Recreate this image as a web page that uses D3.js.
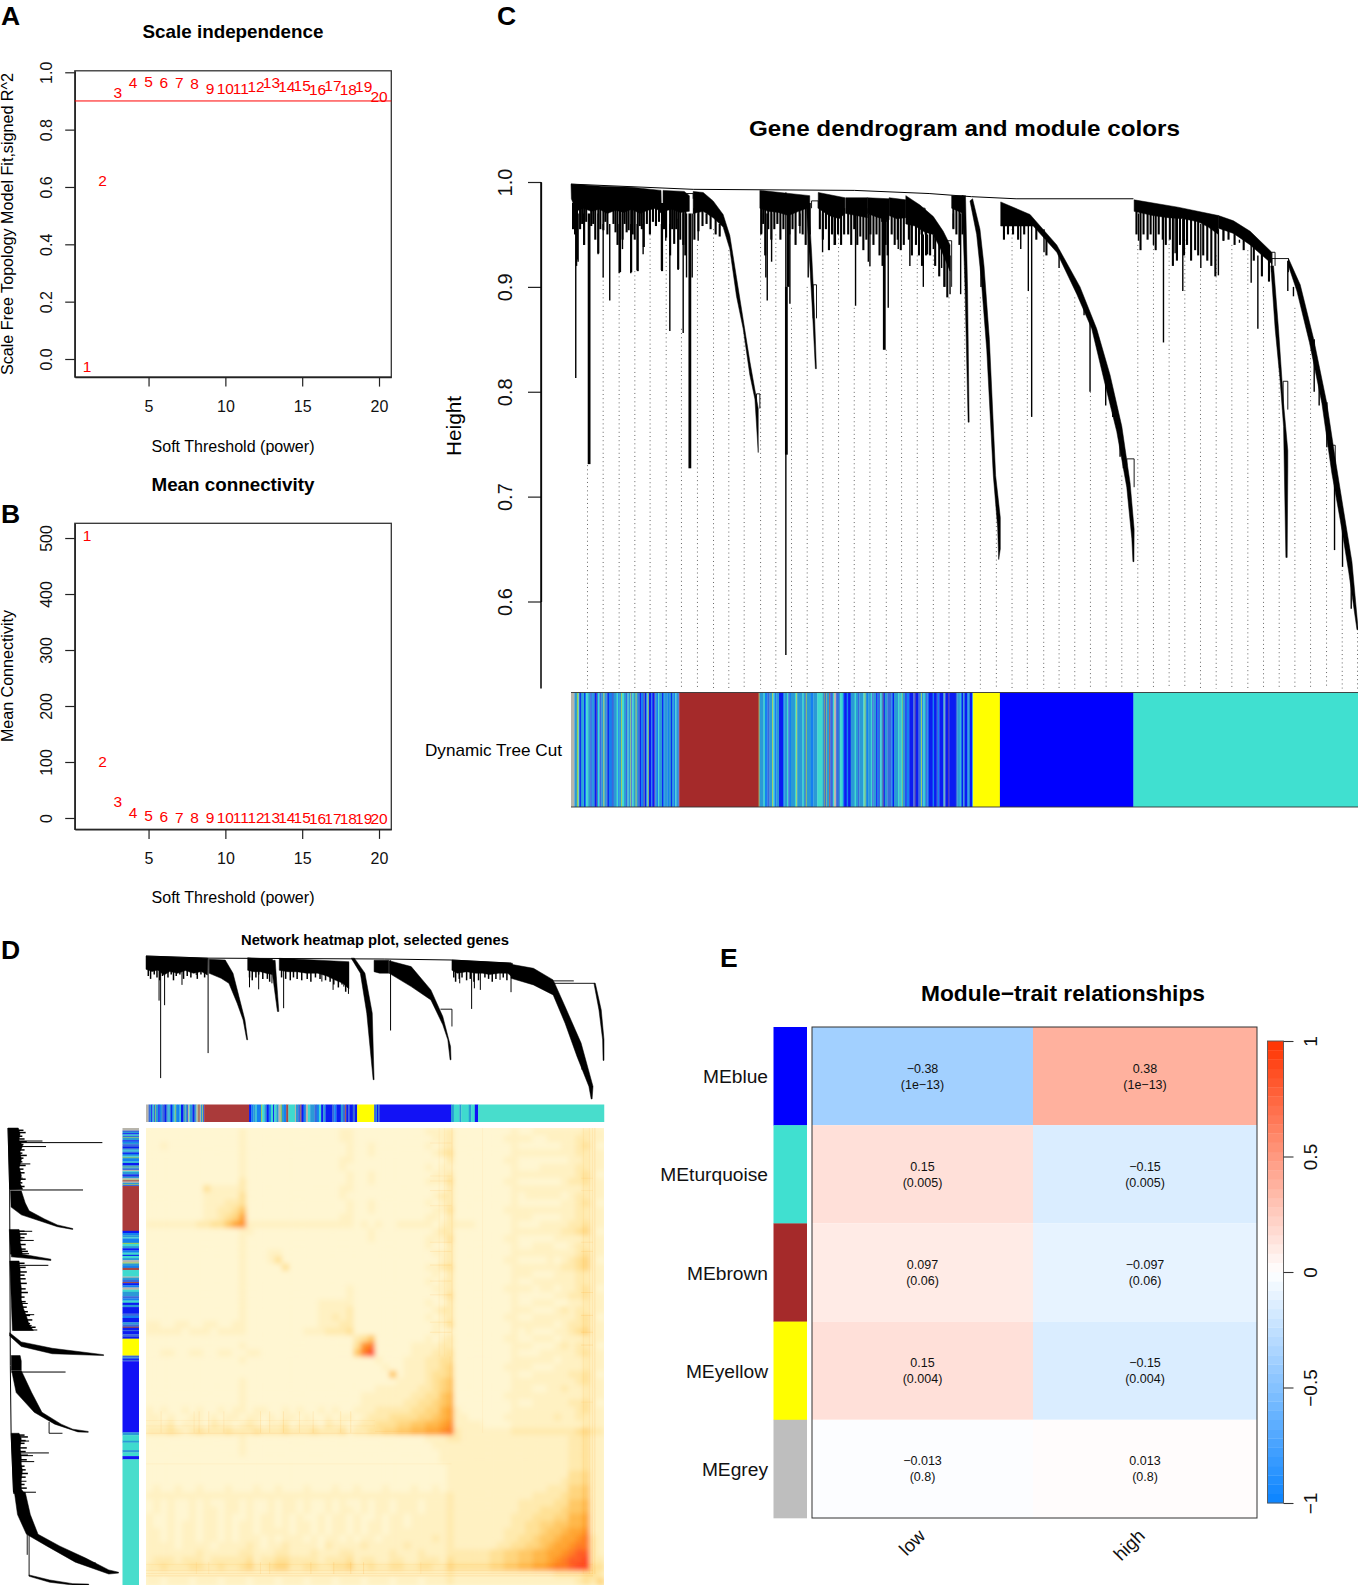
<!DOCTYPE html>
<html><head><meta charset="utf-8">
<script src="https://cdn.jsdelivr.net/npm/d3@7/dist/d3.min.js"></script>
<style>html,body{margin:0;padding:0;background:#fff}svg{display:block}text{font-family:"Liberation Sans",Arial,sans-serif}</style>
</head><body>
<script>
// ---------- Panels A, B ----------
const powers = d3.range(1,21);
const scaleFit = [-0.027,0.624,0.93,0.965,0.968,0.965,0.965,0.962,0.942,0.942,0.944,0.952,0.963,0.951,0.955,0.94,0.953,0.941,0.951,0.916];
const meanK = [505,100.5,29,10.7,5.4,2.4,1.6,1,0.8,0.4,0.3,0.3,0.2,0.2,0.2,0.1,0.1,0.1,0.1,0.1];
const cutoff = 0.9;
const xTicks = [5,10,15,20];
const fitTicks = [0,0.2,0.4,0.6,0.8,1];
const kTicks = [0,100,200,300,400,500];
// ---------- Panel C: dendrogram, x = gene rank, y = height ----------
const heightTicks = [1,0.9,0.8,0.7,0.6];
const cFringes = [
 {top:[[0,.998],[30,.996],[60,.995],[89,.992]],bot:[[0.4,.984],[5,.972],[12,.975],[20,.972],[28,.974],[36,.970],[44,.973],[52,.971],[60,.974],[68,.970],[76,.973],[84,.975],[89.4,.970]]},
 {top:[[91,.992],[112,.991],[117,.987]],bot:[[91,.972],[100,.974],[108,.971],[117,.972]]},
 {top:[[186.7,.992],[236,.987]],bot:[[186.7,.975],[195,.972],[205,.971],[215,.968],[225,.972],[236,.976]]},
 {top:[[244.4,.990],[270.8,.985]],bot:[[244.4,.975],[255,.968],[265,.965],[270.8,.97]]},
 {top:[[271.5,.985],[293,.985]],bot:[[271.5,.97],[282,.968],[293,.966]]},
 {top:[[293,.985],[314.5,.984]],bot:[[293,.97],[304,.966],[314.5,.964]]},
 {top:[[314.5,.985],[331,.983]],bot:[[314.5,.968],[322,.965],[331,.966]]},
 {top:[[331,.987],[345,.978],[358.2,.967],[368,.953],[374.7,.94]],bot:[[331,.96],[340,.958],[350,.952],[358,.95],[366,.935],[374.7,.915]]},
 {top:[[376.3,.987],[387.8,.987]],bot:[[376.3,.975],[387.8,.97]]},
 {top:[[556.7,.983],[600,.976],[640,.968]],bot:[[556.7,.972],[575,.968],[590,.966],[605,.965],[620,.962],[630,.957],[640,.95]]}
];
const cBands = [
 {up:[[120.8,.991],[130.7,.990],[140.5,.982],[150.4,.969],[157,.949],[163.6,.909],[170.2,.869],[176.8,.829],[185.1,.784]],lo:[[120.8,.97],[130.7,.972],[140.5,.966],[150.4,.957],[157,.936],[163.6,.891],[170.2,.860],[176.8,.816],[181.8,.793],[185.1,.742]]},
 {up:[[235,.98],[238,.93],[240.5,.88],[242.6,.822]],lo:[[232.5,.98],[235.5,.93],[238.5,.88],[241.6,.822]]},
 {up:[[390,.987],[392,.9],[393.6,.771]],lo:[[386.5,.987],[389.5,.9],[392.6,.771]]},
 {up:[[397,.984],[404.3,.955],[408.3,.92],[413.6,.85],[419.8,.72],[424.4,.68],[424.4,.65]],lo:[[394.4,.982],[401,.95],[405.3,.91],[411,.84],[417.5,.72],[421.8,.67],[422.8,.64]]},
 {up:[[424.8,.981],[453.8,.969],[480.2,.94],[503.2,.9],[519.7,.86],[532.9,.816],[544.5,.767],[552.7,.713],[556.7,.669],[556.5,.638]],lo:[[424.8,.958],[457,.958],[480.2,.933],[500,.893],[514.8,.86],[528,.807],[539.5,.762],[549.4,.709],[554.4,.66],[555.5,.638]]},
 {up:[[640,.968],[654.9,.963],[671.4,.953],[692.8,.933]],lo:[[640,.956],[654.9,.951],[671.4,.94],[692.8,.922]]},
 {up:[[694.5,.92],[699.4,.86],[704.4,.789],[708.6,.744],[708.6,.727]],lo:[[691.8,.92],[696.1,.86],[701,.811],[704.4,.767],[706.7,.642],[708,.642]]},
 {up:[[709.3,.927],[720.9,.902],[734,.851],[747.2,.789],[755.5,.736],[763.7,.687],[772,.638],[778.2,.573]],lo:[[709.3,.92],[717.6,.896],[730,.847],[742.3,.789],[752.2,.722],[760.4,.678],[768.7,.629],[777,.573]]}
];
const cSpikes = [[4.7,.97,.813],[5.5,.98,.92],[7,.97,.924],[12.6,.97,.94],[26.8,.97,.931],[31.8,.96,.909],[38.3,.96,.887],[47.6,.96,.913],[50.9,.97,.936],[59.1,.96,.913],[65.4,.96,.916],[71.3,.96,.931],[77.9,.96,.951],[89.4,.96,.916],[93.7,.97,.944],[97.7,.96,.858],[105.9,.965,.916],[110.9,.97,.856],[114.2,.97,.909],[119.8,.97,.909],[125.7,.97,.944],
 [188.4,.97,.951],[192.6,.97,.909],[194,.97,.887],[198.3,.97,.924],[212.4,.99,.549],[216.4,.97,.884],[226.3,.97,.951],[234.5,.98,.909],[248.7,.97,.933],[260.2,.97,.94],[281.3,.97,.882],[293.9,.97,.924],[295.5,.97,.92],[313.6,.97,.88],[323.5,.97,.936],[335,.96,.92],[348.3,.95,.90],[352.5,.95,.931],[358.2,.95,.936],[366.4,.94,.918],[374.7,.93,.893],[378,.97,.956],[385.2,.97,.893],[405.3,.93,.90],
 [425.8,.97,.958],[444.6,.965,.936],[452.1,.965,.896],[455.4,.965,.776],[467.6,.955,.933],[482.5,.935,.918],[507.2,.885,.873],[513.1,.87,.80],[528.6,.81,.787],[535.6,.80,.776],[542.8,.77,.738],[546.1,.74,.727],
 [561,.97,.944],[575.8,.97,.94],[585.7,.97,.847],[597.2,.97,.932],[604.8,.965,.896],[622.6,.96,.918],[640,.955,.911],[645,.955,.944],[660.8,.945,.942],[672.4,.94,.904],[679,.93,.86],
 [708.6,.925,.896],[714.2,.90,.891],[734.7,.85,.80],[739.6,.82,.787],[747.2,.79,.747],[754.8,.73,.649],[762.7,.68,.633],[771.3,.63,.593]];
const cThickSpikes = [[17.9,.97,.731],[117.5,.97,.727],[214.7,.97,.9],[309.7,.97,.84],[212.9,.9,.74]];
// short teeth under the fringes: rank, start height, end height
const cTeeth = [[2,.98,.955],[4,.98,.95],[6,.98,.926],[9,.98,.955],[11,.98,.96],[13,.98,.94],[15,.98,.962],[20,.98,.958],[22,.98,.96],[24,.98,.945],[27,.98,.932],[29,.98,.955],[32,.98,.954],[34,.98,.962],[36,.98,.95],[42,.98,.96],[44,.98,.952],[46,.98,.94],[48.5,.98,.914],[51,.98,.945],[53,.98,.96],[55,.98,.952],[57,.98,.954],[59.5,.98,.914],[61,.98,.95],[63,.98,.945],[66,.98,.915],[68,.98,.958],[70,.98,.955],[72,.98,.938],[75,.98,.96],[78,.98,.95],[81,.98,.962],[84,.98,.958],[87,.98,.962],[90,.98,.915],[92,.98,.955],[94,.98,.947],[98,.98,.93],[100,.98,.955],[102,.98,.941],[104,.98,.955],[106,.98,.917],[108,.98,.945],[111,.98,.94],[113,.98,.93],
 [122,.975,.945],[126,.975,.953],[130,.975,.958],[134,.97,.96],[138,.97,.955],[143,.965,.95],[147,.96,.948],
 [188,.98,.95],[190,.98,.96],[192,.98,.93],[195,.98,.955],[198,.98,.945],[201,.98,.955],[204,.98,.96],[207,.98,.945],[210,.98,.955],[216,.98,.95],[219,.98,.955],[222,.98,.94],[226,.98,.958],[229,.98,.95],[232,.98,.94],[236,.98,.95],
 [246,.98,.955],[249,.98,.945],[252,.98,.955],[255,.975,.935],[258,.975,.95],[261,.975,.94],[264,.975,.95],[267,.975,.94],[270,.975,.95],[274,.975,.95],[277,.975,.94],[280,.975,.955],[283,.975,.94],[286,.975,.948],[289,.975,.935],[292,.975,.945],
 [296,.975,.95],[299,.975,.94],[302,.975,.95],[305,.975,.93],[308,.975,.92],[311,.975,.94],[313,.975,.93],[317,.975,.95],[320,.975,.94],[323,.975,.945],[326,.975,.935],[329,.975,.94],
 [334,.97,.945],[337,.97,.93],[341,.965,.94],[344,.965,.93],[347,.96,.92],[351,.96,.93],[355,.955,.93],[360,.95,.92],[364,.945,.91],[369,.94,.90],[372,.93,.89],[378,.98,.955],[381,.98,.95],[384,.98,.94],[387,.98,.95],
 [428,.965,.945],[432,.965,.95],[437,.965,.95],[442,.965,.945],[448,.965,.95],[460,.96,.945],[470,.945,.93],
 [559,.977,.95],[563,.977,.935],[566,.977,.95],[570,.975,.945],[573,.975,.95],[578,.975,.935],[581,.973,.95],[585,.973,.945],[588,.972,.94],[592,.97,.945],[595,.97,.92],[599,.97,.925],[602,.968,.94],[606,.968,.93],[609,.966,.94],[613,.966,.925],[617,.964,.935],[620,.964,.93],[625,.96,.93],[629,.96,.925],[633,.958,.92],[637,.955,.91],
 [645,.96,.944],[650,.955,.945],[656,.955,.94],[665,.95,.935],[675,.94,.925],[683,.935,.91],[690,.93,.905]];
const cLinks = [[692.8,709.3,.927,.914,.914],[549.4,556.7,.736,.73,.709],[183.4,186.7,.798,.784,.784],[239.4,242.7,.902,.87,.87],[114.2,120.8,.989,.984,.984],[237.8,244.4,.982,.975,.975],[307,312,.973,.962,.962],[345,350,.975,.95,.95],[369.7,376.3,.944,.90,.90],[692.8,696,.933,.92,.92],[704,708.6,.81,.783,.783],[752,755.5,.749,.73,.73]];
const cRoof = [[0,.998],[120.8,.993],[280,.992],[354,.989],[396,.986],[440,.984],[556,.984]];
const cGuideRank = [16.3,31.8,47.6,63.1,78.2,94.1,109.2,125,140.9,156,171.2,187.4,202.5,218,233.5,249,264.5,280,295.5,311.7,326.8,342.3,358.2,373.7,389.2,404.7,420.5,436,451.1,467.3,482.5,498,513.5,529,544.5,560.3,575.8,591.3,606.8,622.3,637.8,653.3,669.1,684.6,700.1,715.6,731.1,746.9,762.4,777.5];
const cGuideTop = [.73,.91,.91,.915,.95,.94,.86,.94,.955,.935,.86,.95,.95,.88,.9,.93,.95,.88,.92,.84,.93,.93,.93,.89,.95,.89,.70,.955,.89,.93,.915,.89,.80,.78,.72,.94,.94,.945,.945,.915,.93,.94,.935,.9,.84,.88,.84,.745,.63,.57];
const guideBottom = 0.517;
// stripe lists: code+width
const stripeColors = {g:"#B8B5AC",c:"#2A9AD6",b:"#0A1CF2",t:"#3FDACE",m:"#3A68DC",y:"#9CCB56",v:"#4C3CC0",d:"#1580F0",r:"#A24A4A",o:"#A5A040",B:"#A52A2A",Y:"#FFFF00",T:"#40E0D0",U:"#0000FF",R:"#AA3A3A",P:"#1212F5",Q:"#48DDCC"};
const stripesC1 = "g3.5 c2.5 y1.5 t1 b1.5 c2 t1 b1 d1.5 t2 c2 m1.5 d1 c2 b1.5 v1 d1 t1.5 m2 c2 y1 c2 m1.5 b1 d3 m2 c3 t1.5 d1 c2 y1 t2 c2 m1.5 t1 c2 y.8 m1 t1.5 c2 y1 c1.5 m2 b1 d2 m1 y.5 b2 c1 t.7 y.7 b2.5 d1 b2 v1 c1 d2 t1 c3 b1 d1.5 c3 d1.5 c2 b1 c1.5 d2 t1 c2 m1";
const stripesC2 = "o.7 c3 t1 d2 m1.5 c2 y.7 t1 d1.5 c2 b3 d1 c2 t1 m1 d1 c3 t1 y.7 c4 t1 c1 m.5 y.7 c3 d2 c3 t4 c1 o.5 m1 y.5 c2 r.7 m2 t1 g1.5 m2 c1 t2 d1 b2 d1 b2 c3 t1 c1.5 m1 c3 t1 y.7 c1 d1 c2 t1 m1 c2 b1 d1 m1 t1 c1 r.5 b1 c2 m3 d1 b1 c3 t1 c1 t1 y.5 c2 b1 d2 b3 m1 v1 b2 m1 c1 y.7 d1 t1 c1 m1 d1 b3 d1 b2 m1 d1 b3 c1 g.5 b2 v1 b5 m1 c2 t.5 d1 b1 c1 b2 d1 c1 b2 t.5";
const cSegments = [[stripesC1,0,107],["B1",107,185.5],[stripesC2,185.5,397.5],["Y1",397.5,424],["U1",424,556],["T1",556,778]];
const stripesD1 = "g2 m1 c1 b1 t1 m1 y.5 c2 b1 d1 c1 m2 b1 m1 c1 t.5 c1 b1 d1 c1 t.5 y.5 c1 d2 t1 b2 c1 y.5 c1 m1 g1 t.5 c2 b1 m1 c1 g1 y.5 r1 g1 c1 y.5 m1";
const stripesD2 = "b1 d1 c1 t.5 d2 y.5 t1 c1 b1 d1 t1 b.5 t1 c1 g1 y.5 c1 d1 r1 t3 g.5 c1 m1 r.5 b1 d1 g1 t1 c2 m1 d1 t1 b1 c1 b3 m1 d1 b2 c1 m1 r.5 b1 m.5 b1.5 m1 b1";
const stripesD3 = "m4 c2 b3 m3 P150";
const stripesD4 = "c6 t12 c4 t16 c5 t8";
const dSegments = [[stripesD1,0,127],["R1",127,225],[stripesD2,225,461],["Y1",461,498],[stripesD3,498,666],[stripesD4,666,718],["P1",718,725],["Q1",725,1000]];
// ---------- Panel D: tree, t = position along leaves, d = depth below root ----------
const dFringes = [
 {top:[[0,0],[135,.015]],bot:[[0,.093],[13,.109],[26,.098],[39,.133],[52,.109],[69,.121],[86,.102],[104,.121],[121,.109],[134,.133]]},
 {top:[[222,.012],[276,.023]],bot:[[222,.10],[235,.11],[250,.11],[262,.12],[276,.13]]},
 {top:[[291,.016],[443,.04]],bot:[[291,.10],[310,.11],[330,.11],[350,.12],[375,.12],[395,.14],[414,.17],[430,.19],[443,.23]]},
 {top:[[498,.03],[530,.03]],bot:[[498,.11],[510,.12],[530,.12]]},
 {top:[[668,.028],[800,.05]],bot:[[668,.10],[680,.12],[700,.11],[720,.12],[735,.12],[750,.13],[770,.12],[790,.12],[800,.15]]}
];
const dBands = [
 {up:[[138,.023],[173,.028],[190,.121],[203,.284],[216,.447],[222,.586]],lo:[[138,.121],[164,.156],[181,.191],[199,.33],[212,.447],[220,.586]]},
 {up:[[282,.03],[290,.388]],lo:[[272,.03],[287,.388]]},
 {up:[[455,.015],[478,.12],[494,.4],[498,.865]],lo:[[448,.015],[468,.12],[482,.4],[496,.865]]},
 {up:[[531,.033],[579,.074],[622,.237],[648,.423],[665,.633],[666,.726]],lo:[[531,.121],[579,.214],[622,.307],[648,.481],[659,.586],[664,.726]]},
 {up:[[797,.058],[846,.086],[889,.167],[915,.353],[950,.609],[976,.912],[974,1]],lo:[[797,.156],[846,.202],[889,.272],[915,.47],[941,.702],[967,.912],[972,1]]},
 {up:[[981,.191],[994,.377],[1000,.586],[1000,.73]],lo:[[978,.191],[989,.377],[997,.586],[998,.73]]}
];
const dSpikes = [[28.5,.05,.312],[32,.05,.854],[40.6,.05,.344],[78.6,.05,.202],[109.7,.05,.133],[135.6,.02,.679],[226,.05,.219],[246,.05,.233],[275,.05,.191],[300.5,.05,.365],[384,.05,.179],[408.5,.05,.237],[432,.05,.214],[442,.05,.265],[534,.03,.521],[685,.05,.191],[711,.05,.37],[717,.05,.226],[730,.05,.237],[773,.05,.167],[797,.06,.253],[931,.5,.586],[952,.7,.795]];
const dTeeth = [[5,.07,.14],[10,.07,.16],[18,.07,.13],[24,.07,.15],[30,.07,.17],[36,.07,.14],[48,.07,.15],[55,.07,.13],[60,.07,.17],[66,.07,.14],[74,.07,.13],[82,.07,.16],[90,.07,.14],[98,.07,.15],[112,.07,.16],[120,.07,.13],[128,.07,.15],[226,.07,.15],[232,.07,.17],[240,.07,.15],[246,.07,.13],[255,.07,.16],[265,.07,.16],[270,.07,.18],[296,.07,.15],[305,.07,.16],[315,.07,.17],[322,.07,.15],[330,.07,.16],[340,.07,.17],[352,.07,.16],[360,.07,.18],[370,.07,.15],[380,.07,.16],[392,.07,.17],[402,.07,.18],[410,.07,.2],[420,.07,.22],[428,.07,.2],[436,.07,.25],[672,.07,.15],[676,.07,.18],[684,.07,.16],[690,.07,.15],[700,.07,.17],[708,.07,.16],[716,.07,.18],[726,.07,.17],[740,.07,.15],[748,.07,.16],[756,.07,.18],[764,.07,.16],[780,.07,.15],[788,.07,.17]];
const dLinks = [[643,668,.372,.372,.493],[890,934,.174,.174,.174],[892,980,.191,.2,.191]];
const dRoof = [[0,0],[135,.015],[520,.021],[668,.028],[797,.05]];
// ---------- Panel D heat map: rows "left|right"; left starts at column 0, right ends on the diagonal ----------
const heatColors = ["#FFF6D2","#FFF1C2","#FFEAAE","#FFE196","#FFD57E","#FFC764","#FFB748","#FFA532","#FF9122","#FF7A22","#FF5C22","#FF4422"];
const heatRows = ["|0","|00","|1","|0","|0","|0","|0","|0","|3","|11","|111","|1122","|11234","1111111|2233578",
"00000000000001|1","00000000000001|0","00000000000001|0","00000000000001|1","00000000000001|13","00000000000001|3",
"00000000000001|0","00000000000001|0","00000000000001|0","00000000000001|0","00000000000001|1","00000000000001|11","00000000000001|112",
"11001100110011|01112","11111011101111|01112223","|2","00000000000001|38","0011001100110011|59b",
"00000000000001|1","|1","|5","00000000000001|1","00000000000001|11111","00000000000001|11111112","0000000000000100000000000000000|111111223",
"1010010100101101100101001010011|122222334","1101001101011011010110100101101|2223333445","1112011102110121011201110211012|23334455667","2223212322232223222322232223122|334455667789",
"0000000000000100000000000000000000000001112|2","0000000000000100000000000000000000000000111|11","0000000000000100000000000000000000000000011|111","0000000000000000000000000000000000000000011|1111",
"0000000000000000000000000000000000000000001|11111","0000000000000000000000000000000000000000001|111111","0000000000000000000000000000000000000000001|1111111","0100100100010001001000100010010001000100101|11111111",
"1111111111111111111111111111111111111111112|111111111","0101001010011010010110100101001011011101112|1111111112","0101001011011010010110100101101011011101112|11111111122",
"1001001011010010110101001011010010110111112|111111112223","1001011011010110110101101011010110110111112|1111111122334","1101011011010110111101101011010110111111112|11111112223345",
"1101011011010111010111010110101101111111212|111111122334556","1111011110111121011211110211112111112111112|1111112233445677","1111111211111221112211121112211111211121113|222222334455667789",
"1222122212222231223322221222312211221122213|2222233445566789aa","2232223322322342234422332233422322332233224|3333344556677899abb","1111111111111111111111111111111111111111112|11111111111111222233","1101110111011101110111011101110111011101112|111111111111111112324"];
const heatStreaks = [[.033,.62,.667,.12],[.105,.62,.667,.1],[.116,.62,.667,.12],[.137,.62,.667,.15],[.17,.62,.667,.12],[.25,.62,.667,.15],[.27,.62,.667,.15],[.30,.62,.667,.18],[.335,.62,.667,.15],[.365,.62,.667,.15],[.425,.62,.667,.15],[.447,.62,.667,.18],[.11,.95,.976,.1],[.137,.95,.976,.1],[.25,.95,.976,.15],[.27,.95,.976,.15],[.36,.95,.976,.18],[.41,.95,.976,.2],[.447,.95,.976,.18],[.475,.95,.976,.2],[.6,.95,.976,.1],[.668,.0,.667,.15],[.664,.5,.667,.12],[.652,.0,.5,.08],[.64,.0,.5,.08],[.735,.0,.667,.08],[.98,.0,.976,.2],[.975,.0,.976,.14],[.968,.0,.976,.12],[.955,.0,.976,.1]];
// ---------- Panel E ----------
const modules = ["MEblue","MEturquoise","MEbrown","MEyellow","MEgrey"];
const moduleColors = ["#0000FF","#40E0D0","#A52A2A","#FFFF00","#BEBEBE"];
const traits = ["low","high"];
const traitLeft = [812,1033];
const traitWidth = [221,224];
const corLow = [-0.38,0.15,0.097,0.15,-0.013];
const corHigh = [0.38,-0.15,-0.097,-0.15,0.013];
const pLabels = ["1e−13","0.005","0.06","0.004","0.8"];
const corLabelsLow = ["−0.38","0.15","0.097","0.15","−0.013"];
const corLabelsHigh = ["0.38","−0.15","−0.097","−0.15","0.013"];
const legendTicks = [1,0.5,0,-0.5,-1];

const svg = d3.select("body").append("svg").attr("width",1358).attr("height",1585);
function txt(x,y,s,o={}){
  const t = svg.append("text").attr("x",x).attr("y",y).text(s)
    .attr("font-size",o.size||15).attr("font-weight",o.weight||"normal").attr("fill",o.fill||"#000")
    .attr("text-anchor",o.anchor||"middle");
  if(o.rot!==undefined) t.attr("transform",`rotate(${o.rot} ${x} ${y})`);
  if(o.len) t.attr("textLength",o.len).attr("lengthAdjust","spacingAndGlyphs");
  return t;
}
function rotLeftAxis(scale,ticks,x,fmt,labelX,tick,size){
  const g = svg.append("g").attr("transform",`translate(${x},0)`)
    .call(d3.axisLeft(scale).tickValues(ticks).tickFormat(fmt).tickSize(tick).tickSizeOuter(0));
  g.selectAll("line").attr("stroke","#222").attr("stroke-width",1.2);
  g.select(".domain").attr("stroke","#222").attr("stroke-width",1.3);
  g.selectAll("text").attr("font-size",size).attr("fill","#111").attr("font-family",'"Liberation Sans"')
    .attr("dy",0).attr("x",0).attr("y",0).attr("text-anchor","middle")
    .attr("transform",`translate(${labelX-x},0) rotate(-90)`);
  return g;
}
function bottomAxis(scale,ticks,y,labelY){
  const g = svg.append("g").attr("transform",`translate(0,${y})`)
    .call(d3.axisBottom(scale).tickValues(ticks).tickSize(9.6).tickSizeOuter(0));
  g.selectAll("line").attr("stroke","#222").attr("stroke-width",1.2);
  g.select(".domain").attr("stroke","#222").attr("stroke-width",1.3);
  g.selectAll("text").attr("font-size",16).attr("fill","#111").attr("font-family",'"Liberation Sans"').attr("dy",0).attr("y",labelY-y);
}
function scatterPanel(yScale,vals,ticks,boxTop,boxBot,titleTxt,titleY,titleLen,axisLabel,axisLabelY,axisLabelLen,tickBase,xLabY,fmt){
  const x = d3.scaleLinear().domain([0.2,20.8]).range([74.8,391.3]);
  svg.append("rect").attr("x",74.8).attr("y",boxTop).attr("width",316.5).attr("height",boxBot-boxTop).attr("fill","#fff").attr("stroke","#333").attr("stroke-width",1.3);
  bottomAxis(x,xTicks,boxBot,tickBase);
  rotLeftAxis(yScale,ticks,74.8,fmt,51.5,9.6,16);
  svg.append("g").selectAll("text").data(powers).join("text")
    .attr("x",d=>x(d)).attr("y",(d,i)=>yScale(vals[i])).attr("dy","0.36em").attr("text-anchor","middle")
    .attr("font-size",15.5).attr("fill","#FF0000").text(d=>d);
  txt(233,titleY,titleTxt,{size:18.5,weight:"bold",len:titleLen});
  txt(233,xLabY,"Soft Threshold (power)",{size:16,len:163});
  txt(12.7,axisLabelY,axisLabel,{size:16,rot:-90,len:axisLabelLen});
  return x;
}
// Panel A
const yFit = d3.scaleLinear().domain([-0.0628,1.0052]).range([377,70.8]);
const xA = scatterPanel(yFit,scaleFit,fitTicks,70.8,377,"Scale independence",37.5,181,"Scale Free Topology Model Fit,signed R^2",224,302,412,452,d3.format(".1f"));
svg.append("line").attr("x1",74.8).attr("x2",391.3).attr("y1",yFit(cutoff)).attr("y2",yFit(cutoff)).attr("stroke","#FF0000").attr("stroke-width",1);
// Panel B
const yK = d3.scaleLinear().domain([-20.2,526.3]).range([829.3,523.3]);
scatterPanel(yK,meanK,kTicks,523.3,829.3,"Mean connectivity",491,163,"Mean Connectivity",676,132,864,903,d3.format("d"));

// Panel labels
[["A",1,24.5],["B",1,523],["C",497,24.5],["D",1,959],["E",720,967]].forEach(l=>txt(l[1],l[2],l[0],{size:26.5,weight:"bold",anchor:"start"}));

// tree helpers
const polyPath = (line,b)=>line(b.up.concat(b.lo.slice().reverse()))+"Z";
const fringePath = (line,f)=>line(f.top.concat(f.bot.slice().reverse()))+"Z";
function drawTree(px,py,fringes,bands,spikes,thick,teeth,teethW,links,roof,sw){
  const g = svg.append("g");
  const line = d3.line().x(d=>px(d[0],d[1])).y(d=>py(d[0],d[1]));
  g.selectAll(".f").data(fringes).join("path").attr("d",d=>fringePath(line,d)).attr("fill","#000").attr("stroke","#000").attr("stroke-width",.5);
  g.selectAll(".b").data(bands).join("path").attr("d",d=>polyPath(line,d)).attr("fill","#000").attr("stroke","#000").attr("stroke-width",.5);
  g.selectAll(".s").data(spikes).join("path").attr("d",d=>line([[d[0],d[1]],[d[0],d[2]]])).attr("stroke","#000").attr("stroke-width",sw).attr("fill","none");
  g.selectAll(".t").data(thick).join("path").attr("d",d=>line([[d[0],d[1]],[d[0],d[2]]])).attr("stroke","#000").attr("stroke-width",sw*2).attr("fill","none");
  g.selectAll(".n").data(teeth).join("path").attr("d",d=>line([[d[0],d[1]],[d[0],d[2]]])).attr("stroke","#000").attr("stroke-width",teethW).attr("fill","none");
  g.selectAll(".l").data(links).join("path").attr("d",d=>line([[d[0],d[3]],[d[0],d[2]],[d[1],d[2]],[d[1],d[4]]])).attr("stroke","#000").attr("stroke-width",.9).attr("fill","none");
  g.append("path").attr("d",line(roof)).attr("stroke","#000").attr("stroke-width",1).attr("fill","none");
}
function parseStripes(s){ return s.split(" ").map(k=>({c:k[0],w:+k.slice(1)})); }
function stripeBar(list,horizontal,a0,a1,b0,b1){
  let acc=0; const items=list.map(s=>{const o={c:s.c,x0:acc,x1:acc+s.w};acc+=s.w;return o;});
  const sc=d3.scaleLinear().domain([0,acc]).range([a0,a1]);
  svg.append("g").selectAll("rect").data(items).join("rect")
    .attr(horizontal?"x":"y",d=>sc(d.x0)).attr(horizontal?"width":"height",d=>Math.max(.3,sc(d.x1)-sc(d.x0))+.25)
    .attr(horizontal?"y":"x",b0).attr(horizontal?"height":"width",b1-b0)
    .attr("fill",d=>stripeColors[d.c]);
}

// Panel C
const xC = d3.scaleLinear().domain([0,778]).range([571,1358]);
const yC = d3.scaleLinear().domain([1,0.6]).range([182,601.5]);
svg.append("g").selectAll("line").data(cGuideRank).join("line")
  .attr("x1",d=>xC(d)).attr("x2",d=>xC(d)).attr("y1",(d,i)=>yC(cGuideTop[i])).attr("y2",yC(guideBottom))
  .attr("stroke","#555").attr("stroke-width",.9).attr("stroke-dasharray","1 3.2");
drawTree(r=>xC(r),(r,h)=>yC(h),cFringes,cBands,cSpikes,cThickSpikes,cTeeth,2.1,cLinks,cRoof,1.4);
rotLeftAxis(yC,heightTicks,541,d3.format(".1f"),511.7,13,20);
svg.append("line").attr("x1",541).attr("x2",541).attr("y1",182).attr("y2",688.5).attr("stroke","#000").attr("stroke-width",1.5);
txt(460.7,426,"Height",{size:20,rot:-90,len:60});
txt(964.5,135.5,"Gene dendrogram and module colors",{size:21.5,weight:"bold",len:431});
txt(562,756,"Dynamic Tree Cut",{size:17,anchor:"end",len:137});
cSegments.forEach(s=>stripeBar(parseStripes(s[0]),true,xC(s[1]),xC(s[2]),692.5,807));
svg.append("line").attr("x1",571).attr("x2",1358).attr("y1",692.5).attr("y2",692.5).attr("stroke","#333").attr("stroke-width",.9);
svg.append("line").attr("x1",571).attr("x2",1358).attr("y1",807).attr("y2",807).attr("stroke","#333").attr("stroke-width",.9);

// Panel D
txt(375,944.5,"Network heatmap plot, selected genes",{size:14,weight:"bold",len:268});
const tTop = d3.scaleLinear().domain([0,1000]).range([146,604]);
const dTop = d3.scaleLinear().domain([0,1]).range([956,1099]);
const tLeft = d3.scaleLinear().domain([0,1000]).range([1128,1585]);
const dLeft = d3.scaleLinear().domain([0,1]).range([8,118.5]);
drawTree(t=>tTop(t),(t,d)=>dTop(d),dFringes,dBands,dSpikes,[],dTeeth,1.5,dLinks,dRoof,1);
drawTree((t,d)=>dLeft(d),t=>tLeft(t),dFringes,dBands,dSpikes,[],dTeeth,1.5,dLinks,dRoof,1);
dSegments.forEach(s=>stripeBar(parseStripes(s[0]),true,tTop(s[1]),tTop(s[2]),1104.5,1122));
dSegments.forEach(s=>stripeBar(parseStripes(s[0]),false,tLeft(s[1]),tLeft(s[2]),122.5,139));
// heat cells through band scales + symmetric fill
const N = heatRows.length;
const bandX = d3.scaleBand().domain(d3.range(N)).range([146,604]);
const bandY = d3.scaleBand().domain(d3.range(N)).range([1128,1585]);
const colorHeat = d3.scaleOrdinal().domain(d3.range(heatColors.length)).range(heatColors);
const heatCells = [];
heatRows.forEach((row,r)=>{
  const [L,R] = row.split("|");
  for(let c=0;c<=r;c++){
    let ch="0";
    const ri = c-(r-R.length+1);
    if(ri>=0) ch=R[ri]; else if(c<L.length) ch=L[c];
    const v=parseInt(ch,16);
    heatCells.push({r,c,v});
    if(c!==r) heatCells.push({r:c,c:r,v});
  }
});
const defs = svg.append("defs");
defs.append("clipPath").attr("id","hc").append("rect").attr("x",146).attr("y",1128).attr("width",458).attr("height",457);
defs.append("filter").attr("id","soft").attr("x","-2%").attr("y","-2%").attr("width","104%").attr("height","104%").append("feGaussianBlur").attr("stdDeviation",2.4);
const heatOuter = svg.append("g").attr("clip-path","url(#hc)");
heatOuter.append("rect").attr("x",146).attr("y",1128).attr("width",458).attr("height",457).attr("fill",heatColors[0]);
heatOuter.append("g").attr("filter","url(#soft)").selectAll("rect").data(heatCells).join("rect")
  .attr("x",d=>bandX(d.c)).attr("y",d=>bandY(d.r)).attr("width",bandX.bandwidth()+.4).attr("height",bandY.bandwidth()+.4)
  .attr("fill",d=>colorHeat(d.v));
const fX = d3.scaleLinear().domain([0,1]).range([146,604]);
const fY = d3.scaleLinear().domain([0,1]).range([1128,1585]);
const sG = heatOuter.append("g").attr("stroke","#FF9A10").attr("stroke-width",.8);
sG.selectAll(".h").data(heatStreaks).join("line").attr("x1",d=>fX(d[1])).attr("x2",d=>fX(d[2])).attr("y1",d=>fY(d[0])).attr("y2",d=>fY(d[0])).attr("stroke-opacity",d=>d[3]);
sG.selectAll(".v").data(heatStreaks).join("line").attr("y1",d=>fY(d[1])).attr("y2",d=>fY(d[2])).attr("x1",d=>fX(d[0])).attr("x2",d=>fX(d[0])).attr("stroke-opacity",d=>d[3]);

// Panel E
const color = d3.scaleLinear().domain([-1,0,1]).range(["#0A84FF","#FFFFFF","#FF3300"]);
const yE = d3.scaleBand().domain(modules).range([1027,1518]);
const colsE = [corLow,corHigh], labsE=[corLabelsLow,corLabelsHigh];
traits.forEach((t,j)=>{
  svg.append("g").selectAll("rect").data(modules).join("rect")
    .attr("x",traitLeft[j]).attr("width",traitWidth[j]).attr("y",d=>yE(d)).attr("height",yE.bandwidth())
    .attr("fill",(d,i)=>color(colsE[j][i]));
  modules.forEach((m,i)=>{
    const cx = traitLeft[j]+traitWidth[j]/2;
    txt(cx,yE(m)+yE.bandwidth()/2-3.5,labsE[j][i],{size:12.5,fill:"#111"});
    txt(cx,yE(m)+yE.bandwidth()/2+12.5,`(${pLabels[i]})`,{size:12.5,fill:"#111"});
  });
});
svg.append("rect").attr("x",812).attr("y",1027).attr("width",445).attr("height",491).attr("fill","none").attr("stroke","#333").attr("stroke-width",1);
svg.append("g").selectAll("rect").data(modules).join("rect").attr("x",773.5).attr("width",33.5).attr("y",d=>yE(d)).attr("height",yE.bandwidth()+.3).attr("fill",(d,i)=>moduleColors[i]);
modules.forEach(m=>txt(768,yE(m)+yE.bandwidth()/2+7,m,{size:19.2,anchor:"end",fill:"#111"}));
txt(1063,1000.5,"Module−trait relationships",{size:22.5,weight:"bold",len:284});
traits.forEach((t,j)=>txt(traitLeft[j]+traitWidth[j]/2+(j?1:4),1537,t,{size:18.5,anchor:"end",rot:-45,fill:"#111"}));
// colour key
const yL = d3.scaleLinear().domain([-1,1]).range([1503,1041]);
const keySteps = d3.range(50).map(i=>-1+i*2/50);
svg.append("g").selectAll("rect").data(keySteps).join("rect").attr("x",1267.5).attr("width",16)
  .attr("y",d=>yL(d+0.04)).attr("height",yL(0)-yL(0.04)+.3).attr("fill",d=>color(d+0.02));
svg.append("rect").attr("x",1267.5).attr("y",1041).attr("width",16).attr("height",462).attr("fill","none").attr("stroke","#555").attr("stroke-width",.9);
const legAxis = svg.append("g").attr("transform","translate(1283.5,0)").call(d3.axisRight(yL).tickValues(legendTicks).tickSize(10).tickSizeOuter(0).tickFormat(d=>d<0?"−"+Math.abs(d):d));
legAxis.select(".domain").remove();
legAxis.selectAll("line").attr("stroke","#333").attr("stroke-width",1.1);
legAxis.selectAll("text").attr("font-size",19).attr("font-family",'"Liberation Sans"').attr("fill","#111").attr("dy",0).attr("x",0).attr("y",0).attr("text-anchor","middle").attr("transform","translate(33,0) rotate(-90)");
</script>
</body></html>
